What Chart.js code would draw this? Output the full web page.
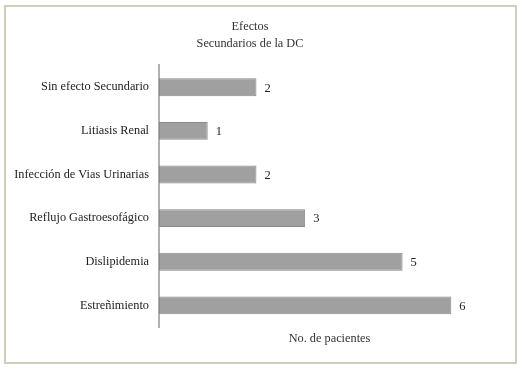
<!DOCTYPE html>
<html>
<head>
<meta charset="utf-8">
<script src="https://cdn.jsdelivr.net/npm/chart.js@4/dist/chart.umd.min.js"></script>
<style>
  html, body { margin: 0; padding: 0; background: #fff; }
  #wrap { position: relative; width: 523px; height: 369px; }
  #frame { position: absolute; left: 4px; top: 5px; width: 509px; height: 355px; border: 2px solid #c9d0bb; pointer-events: none; }
  canvas { position: absolute; left: 0; top: 0; }
</style>
</head>
<body>
<div id="wrap">
  <canvas id="c" width="523" height="369"></canvas>
  <div id="frame"></div>
</div>
<script>
const categories = ['Sin efecto Secundario', 'Litiasis Renal', 'Infección de Vias Urinarias', 'Reflujo Gastroesofágico', 'Dislipidemia', 'Estreñimiento'];
const pacientes = [2, 1, 2, 3, 5, 6];
const titleLines = ['Efectos', 'Secundarios de la DC'];
const xTitle = 'No. de pacientes';

const FONT = "'Liberation Serif', 'Times New Roman', serif";

const valueLabels = {
  id: 'valueLabels',
  afterDatasetsDraw(chart) {
    const ctx = chart.ctx;
    const meta = chart.getDatasetMeta(0);
    ctx.save();
    ctx.font = '12.5px ' + FONT;
    ctx.fillStyle = '#222';
    ctx.textAlign = 'left';
    ctx.textBaseline = 'middle';
    meta.data.forEach((bar, i) => {
      ctx.fillText(String(chart.data.datasets[0].data[i]), bar.x + 8, bar.y + 1);
    });
    ctx.restore();
  }
};

new Chart(document.getElementById('c'), {
  type: 'bar',
  data: {
    labels: categories,
    datasets: [{
      data: pacientes,
      backgroundColor: '#a0a0a0',
      borderColor: '#8a8a8a',
      borderWidth: 1,
      borderSkipped: false,
      barPercentage: 0.41,
      categoryPercentage: 1
    }]
  },
  options: {
    indexAxis: 'y',
    responsive: false,
    animation: false,
    layout: { padding: { left: 0, right: 23, top: 0, bottom: 23 } },
    plugins: {
      legend: { display: false },
      tooltip: { enabled: false },
      title: {
        display: true,
        text: titleLines,
        color: '#333',
        font: { family: FONT, size: 12.3, weight: 'normal', lineHeight: 1.4 },
        padding: { top: 18, bottom: 13 }
      }
    },
    scales: {
      x: {
        min: 0,
        max: 7,
        ticks: { display: false },
        grid: { display: false, drawTicks: false },
        border: { display: false },
        title: {
          display: true,
          text: xTitle,
          color: '#333',
          font: { family: FONT, size: 12.3, lineHeight: 1.2 },
          padding: { top: 4, bottom: 0 }
        }
      },
      y: {
        afterFit(scale) { scale.width = 159; },
        grid: { display: false, drawTicks: false },
        border: { display: true, color: '#b0b0b0', width: 2 },
        ticks: {
          color: '#222',
          padding: 10,
          font: { family: FONT, size: 12.3 }
        }
      }
    }
  },
  plugins: [valueLabels]
});
</script>
</body>
</html>
